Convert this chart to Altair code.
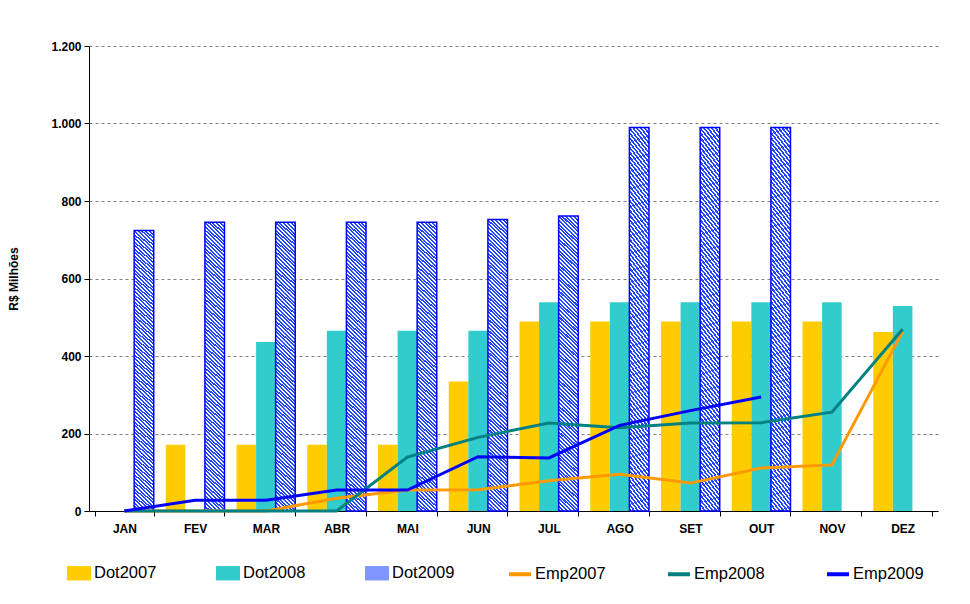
import altair as alt
import pandas as pd

months = ["JAN", "FEV", "MAR", "ABR", "MAI", "JUN", "JUL", "AGO", "SET", "OUT", "NOV", "DEZ"]
dot2007 = [0, 171, 171, 171, 171, 334, 489, 489, 489, 489, 489, 462]
dot2008 = [0, 0, 436, 465, 465, 465, 539, 539, 539, 539, 539, 529]
dot2009 = [724, 745, 745, 745, 745, 752, 761, 990, 990, 990, None, None]
emp2007 = [0, 0, 0, 33, 54, 55, 78, 95, 72, 111, 119, 463]
emp2008 = [0, 0, 0, 0, 139, 190, 227, 215, 227, 228, 255, 469]
emp2009 = [0, 28, 28, 54, 54, 140, 137, 221, 259, 294, None, None]
bar_series = ["Dot2007", "Dot2008", "Dot2009"]
line_series = ["Emp2007", "Emp2008", "Emp2009"]
y_ticks = [0, 200, 400, 600, 800, 1000, 1200]

bar_rows = []
for name, vals in zip(bar_series, [dot2007, dot2008, dot2009]):
    for i, (m, v) in enumerate(zip(months, vals)):
        if v is not None:
            bar_rows.append({"month": m, "idx": i, "series": name, "value": v})
bars_df = pd.DataFrame(bar_rows)

line_rows = []
for name, vals in zip(line_series, [emp2007, emp2008, emp2009]):
    for i, (m, v) in enumerate(zip(months, vals)):
        if v is not None:
            line_rows.append({"month": m, "idx": i, "series": name, "value": v})
lines_df = pd.DataFrame(line_rows)

BLUE = "#0000ff"


def hatch_stops(n, frac=0.5):
    stops = []
    for k in range(n):
        a = k / n
        b = (k + frac) / n
        c = (k + 1) / n
        stops += [
            {"offset": round(a, 5), "color": "#2448ff"},
            {"offset": round(b, 5), "color": "#2448ff"},
            {"offset": round(b, 5), "color": "#ffffff"},
            {"offset": round(c, 5), "color": "#ffffff"},
        ]
    return stops


hatch = {"gradient": "linear", "x1": 1, "y1": 0, "x2": 0.9308, "y2": 1.065, "stops": hatch_stops(85, 0.55)}

FONT = "Liberation Sans"

x_enc = alt.X(
    "month:N",
    sort=months,
    scale=alt.Scale(domain=months, paddingInner=0.17, paddingOuter=0.085),
    axis=alt.Axis(
        title=None,
        labelAngle=0,
        tickBand="extent",
        domainColor="#000000",
        tickColor="#000000",
        tickSize=5,
        labelPadding=7,
        labelFont=FONT,
        labelFontSize=12,
        labelFontWeight="bold",
        labelColor="#000000",
        grid=False,
    ),
)

y_enc = alt.Y(
    "value:Q",
    scale=alt.Scale(domain=[0, 1200], nice=False),
    axis=alt.Axis(
        title="R$ Milhões",
        values=y_ticks,
        labelExpr="replace(format(datum.value, ','), ',', '.')",
        domainColor="#000000",
        tickColor="#000000",
        tickSize=5,
        labelPadding=3,
        labelFont=FONT,
        labelFontSize=12,
        labelFontWeight="bold",
        labelColor="#000000",
        titleFont=FONT,
        titleFontSize=12,
        titleFontWeight="bold",
        titleColor="#000000",
        titlePadding=30,
        grid=True,
        gridColor="#808080",
        gridDash=[3, 3],
        gridWidth=1,
    ),
)

bars = alt.Chart(bars_df).mark_bar(strokeWidth=1.5).encode(
    x=x_enc,
    xOffset=alt.XOffset("series:N", scale=alt.Scale(domain=bar_series, paddingInner=0, paddingOuter=0)),
    y=y_enc,
    fill=alt.condition(
        alt.datum.series == "Dot2009",
        alt.value(hatch),
        alt.Fill(
            "series:N",
            scale=alt.Scale(domain=bar_series, range=["#ffcc00", "#33cccc", "#7f96ff"]),
            legend=alt.Legend(
                title=None,
                orient="none",
                direction="horizontal",
                legendX=-22,
                legendY=515,
                symbolType="M-1,-0.6H1V0.6H-1Z",
                symbolSize=576,
                symbolStrokeWidth=0,
                labelFont=FONT,
                labelFontSize=16.5,
                labelColor="#000000",
                labelOffset=3,
                columnPadding=59,
                gridAlign="all",
            ),
        ),
    ),
    stroke=alt.condition(alt.datum.series == "Dot2009", alt.value(BLUE), alt.value("transparent")),
)

lines = alt.Chart(lines_df).mark_line(strokeWidth=3, interpolate="linear").encode(
    x=alt.X("month:N", sort=months),
    y=alt.Y("value:Q"),
    order=alt.Order("idx:Q"),
    stroke=alt.Stroke(
        "series:N",
        scale=alt.Scale(domain=line_series, range=["#ff9900", "#008080", BLUE]),
        legend=alt.Legend(
            title=None,
            orient="none",
            direction="horizontal",
            legendX=418,
            legendY=515,
            symbolType="stroke",
            symbolSize=484,
            symbolStrokeWidth=4,
            labelFont=FONT,
            labelFontSize=16.5,
            labelColor="#000000",
            labelOffset=2,
            columnPadding=54,
            gridAlign="all",
        ),
    ),
)

chart = (
    alt.layer(bars, lines)
    .resolve_scale(fill="independent", stroke="independent")
    .properties(
        width=849,
        height=465,
        autosize=alt.AutoSizeParams(type="none"),
        padding={"left": 89, "top": 46, "right": 32, "bottom": 93},
        background="#ffffff",
    )
    .configure_view(stroke=None)
)

chart.save("out.html", embed_options={"renderer": "svg", "actions": False})
